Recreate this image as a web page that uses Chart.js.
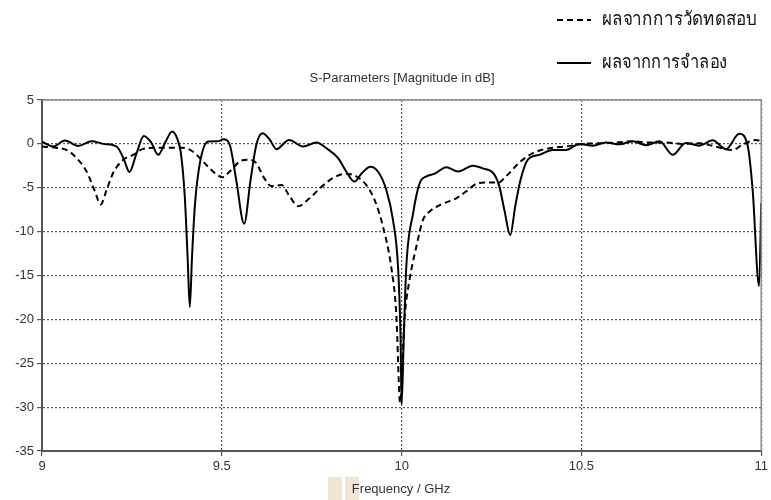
<!DOCTYPE html>
<html>
<head>
<meta charset="utf-8">
<script src="https://cdn.jsdelivr.net/npm/chart.js@4"></script>
<style>
  body { margin: 0; background: #fff; }
  #wrap { width: 771px; height: 500px; }
</style>
</head>
<body>
<div id="wrap"><canvas id="chart" width="771" height="500"></canvas></div>
<script>
// simulated (solid) curve
const simFreq = [9.000, 9.031, 9.064, 9.100, 9.138, 9.170, 9.198, 9.212, 9.228, 9.243,
  9.262, 9.283, 9.303, 9.323, 9.343, 9.362, 9.376, 9.386, 9.397, 9.405,
  9.411, 9.417, 9.425, 9.439, 9.462, 9.490, 9.504, 9.522, 9.540, 9.562,
  9.580, 9.596, 9.613, 9.633, 9.652, 9.687, 9.726, 9.763, 9.791, 9.823,
  9.846, 9.869, 9.888, 9.913, 9.934, 9.957, 9.976, 9.990, 9.997, 10.000,
  10.006, 10.013, 10.032, 10.050, 10.069, 10.092, 10.124, 10.157, 10.198, 10.226,
  10.258, 10.272, 10.286, 10.302, 10.316, 10.330, 10.351, 10.383, 10.420, 10.457,
  10.494, 10.532, 10.568, 10.606, 10.643, 10.680, 10.717, 10.754, 10.790, 10.828,
  10.865, 10.902, 10.939, 10.962, 10.976, 10.994, 11.000];
const simDb = [0.26, -0.3, 0.38, -0.23, 0.3, 0.0, -0.15, -0.5, -1.8, -3.2,
  -1.2, 0.9, 0.2, -1.25, 0.2, 1.4, 0.6, -1.0, -6.0, -13.0,
  -18.6, -13.0, -7.1, -2.2, 0.27, 0.3, 0.53, -0.1, -4.1, -9.1,
  -4.1, -0.1, 1.2, 0.5, -0.6, 0.45, -0.3, 0.15, -0.5, -1.6,
  -3.15, -4.3, -3.4, -2.6, -3.15, -5.2, -8.7, -14.0, -22.0, -29.7,
  -22.0, -14.0, -7.9, -4.5, -3.7, -3.4, -2.65, -3.15, -2.5, -2.8,
  -3.5, -4.9, -7.6, -10.4, -7.1, -4.2, -1.8, -1.25, -0.7, -0.7,
  0.0, -0.2, 0.15, -0.05, 0.3, -0.15, 0.3, -1.25, 0.1, -0.2,
  0.4, -0.6, 1.14, -0.15, -5.2, -16.2, -6.7];

// measured (dashed) curve
const measFreq = [9.000, 9.040, 9.069, 9.096, 9.124, 9.147, 9.163, 9.180, 9.198, 9.226,
  9.254, 9.281, 9.318, 9.356, 9.388, 9.411, 9.430, 9.457, 9.480, 9.502,
  9.522, 9.550, 9.573, 9.596, 9.615, 9.638, 9.666, 9.689, 9.712, 9.744,
  9.777, 9.809, 9.846, 9.874, 9.902, 9.925, 9.948, 9.971, 9.985, 9.996,
  10.008, 10.022, 10.041, 10.059, 10.078, 10.110, 10.152, 10.180, 10.208, 10.237,
  10.270, 10.290, 10.300, 10.328, 10.365, 10.411, 10.457, 10.504, 10.550, 10.596,
  10.643, 10.689, 10.735, 10.780, 10.828, 10.865, 10.920, 10.948, 10.985, 11.000];
const measDb = [-0.3, -0.45, -0.7, -1.6, -3.15, -5.4, -6.9, -5.2, -3.3, -1.8,
  -1.25, -0.57, -0.45, -0.45, -0.45, -0.65, -1.25, -2.4, -3.3, -3.8,
  -3.15, -2.0, -1.8, -2.2, -3.7, -4.8, -4.7, -6.0, -7.1, -6.2,
  -4.9, -3.9, -3.4, -3.7, -4.7, -6.4, -9.4, -14.0, -19.3, -29.5,
  -20.0, -15.5, -11.7, -8.7, -7.7, -6.9, -6.2, -5.4, -4.55, -4.4,
  -4.4, -3.7, -3.3, -2.1, -1.06, -0.5, -0.3, 0.0, 0.07, 0.15,
  0.3, 0.15, 0.15, 0.0, 0.07, -0.23, -0.7, -0.1, 0.45, 0.3];

const seriesNames = ['ผลจากการวัดทดสอบ', 'ผลจากการจำลอง'];
const chartTitle = 'S-Parameters [Magnitude in dB]';
const xTitle = 'Frequency / GHz';
const xTicks = [9, 9.5, 10, 10.5, 11];
const yTicks = [5, 0, -5, -10, -15, -20, -25, -30, -35];

const pts = (xs, ys) => xs.map((x, i) => ({ x: x, y: ys[i] }));

const textFont = "'Liberation Sans', 'DejaVu Sans', sans-serif";
const thaiFont = "'Noto Sans', 'DejaVu Sans', sans-serif";

// title, frame, axis title and the legend drawn on the canvas
const decorations = {
  id: 'decorations',
  afterDraw(chart) {
    const ctx = chart.ctx;
    const a = chart.chartArea;
    ctx.save();

    // top + right frame
    ctx.strokeStyle = '#8a8a8a';
    ctx.lineWidth = 1.5;
    ctx.beginPath();
    ctx.moveTo(a.left, a.top);
    ctx.lineTo(a.right, a.top);
    ctx.lineTo(a.right, a.bottom);
    ctx.stroke();

    ctx.fillStyle = '#333';
    ctx.textAlign = 'center';
    ctx.textBaseline = 'middle';
    ctx.font = '13px ' + textFont;
    ctx.fillText(chartTitle, 402, 78);

    // scan artefact behind the axis title
    ctx.fillStyle = '#efe6d6';
    ctx.fillRect(328, 477, 14, 23);
    ctx.fillRect(345, 477, 14, 23);

    ctx.fillStyle = '#333';
    ctx.font = '13px ' + textFont;
    ctx.fillText(xTitle, 401, 489);

    // legend
    const ds = chart.data.datasets;
    const rows = [20, 63];
    ctx.textAlign = 'left';
    ds.forEach((d, i) => {
      const y = rows[i];
      ctx.strokeStyle = '#000';
      ctx.lineWidth = 2.2;
      ctx.setLineDash(d.borderDash || []);
      ctx.beginPath();
      ctx.moveTo(557, y);
      ctx.lineTo(591, y);
      ctx.stroke();
      ctx.setLineDash([]);

      ctx.fillStyle = '#111';
      ctx.font = '19px ' + thaiFont;
      const w = ctx.measureText(d.label).width;
      const target = i === 0 ? 155 : 125;
      const sx = Math.min(1, target / w);
      ctx.save();
      ctx.translate(602, y);
      ctx.scale(sx, 1);
      ctx.fillText(d.label, 0, 0);
      ctx.restore();
    });

    ctx.restore();
  }
};

new Chart(document.getElementById('chart'), {
  type: 'line',
  data: {
    datasets: [
      {
        label: seriesNames[0],
        data: pts(measFreq, measDb),
        borderColor: '#000',
        borderWidth: 2,
        borderDash: [6, 4],
        pointRadius: 0,
        cubicInterpolationMode: 'monotone',
        fill: false
      },
      {
        label: seriesNames[1],
        data: pts(simFreq, simDb),
        borderColor: '#000',
        borderWidth: 2,
        pointRadius: 0,
        cubicInterpolationMode: 'monotone',
        fill: false
      }
    ]
  },
  options: {
    responsive: false,
    animation: false,
    events: [],
    layout: { padding: { top: 100, right: 8, left: 0, bottom: 0 } },
    plugins: {
      legend: { display: false },
      title: { display: false },
      tooltip: { enabled: false }
    },
    scales: {
      x: {
        type: 'linear',
        min: 9,
        max: 11,
        afterBuildTicks: (s) => { s.ticks = xTicks.map(v => ({ value: v })); },
        afterFit: (s) => { s.height = 49; },
        ticks: {
          color: '#333',
          font: { family: textFont, size: 13 },
          padding: 3,
          maxRotation: 0,
          callback: (v) => String(v)
        },
        grid: {
          color: '#555',
          lineWidth: 1.2,
          tickLength: 5,
          tickColor: '#555',
          tickBorderDash: []
        },
        border: { color: '#555', width: 2, dash: [2, 2] }
      },
      y: {
        min: -35,
        max: 5,
        afterBuildTicks: (s) => { s.ticks = yTicks.map(v => ({ value: v })); },
        afterFit: (s) => { s.width = 42; },
        ticks: {
          color: '#333',
          font: { family: textFont, size: 13 },
          padding: 3,
          callback: (v) => String(v)
        },
        grid: {
          color: '#555',
          lineWidth: 1.2,
          tickLength: 5,
          tickColor: '#555',
          tickBorderDash: []
        },
        border: { color: '#555', width: 2, dash: [2, 2] }
      }
    }
  },
  plugins: [decorations]
});
</script>
</body>
</html>
